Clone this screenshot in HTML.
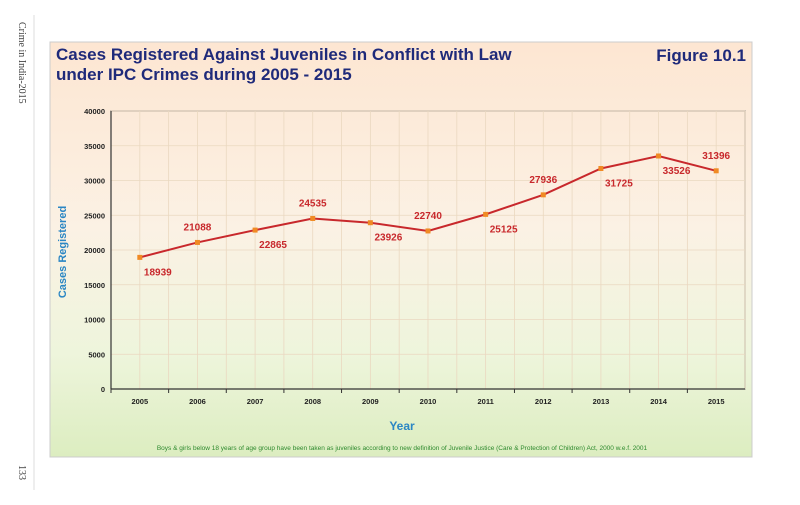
<!DOCTYPE html>
<html><head><meta charset="utf-8"><style>
body{margin:0;width:800px;height:500px;background:#fff;overflow:hidden;font-family:"Liberation Sans",sans-serif}
</style></head><body>
<svg width="800" height="500">
<defs><linearGradient id="bg" x1="0" y1="0" x2="0" y2="1">
<stop offset="0" stop-color="#fde6d2"/><stop offset="0.45" stop-color="#fbf1e4"/><stop offset="0.75" stop-color="#eef5dc"/><stop offset="1" stop-color="#dcedc0"/></linearGradient></defs>
<text transform="translate(19,22) rotate(90)" font-family="Liberation Serif" font-size="10" fill="#444">Crime in India-2015</text>
<text transform="translate(19,465) rotate(90)" font-family="Liberation Serif" font-size="10" fill="#444">133</text>
<line x1="34" y1="15" x2="34" y2="490" stroke="#ddd" stroke-width="1"/>
<rect x="50" y="42" width="702" height="415" fill="url(#bg)" stroke="#ccc"/>
<text x="56" y="60" font-size="17" font-weight="bold" fill="#1f2a7a">Cases Registered Against Juveniles in Conflict with Law</text>
<text x="56" y="80" font-size="17" font-weight="bold" fill="#1f2a7a">under IPC Crimes during 2005 - 2015</text>
<text x="746" y="61" text-anchor="end" font-size="17" font-weight="bold" fill="#1f2a7a">Figure 10.1</text>
<g id="plot"></g>
<text x="402" y="430" text-anchor="middle" font-size="12" font-weight="bold" fill="#2a86c4">Year</text>
<text transform="translate(66,252) rotate(-90)" text-anchor="middle" font-size="11" font-weight="bold" fill="#2a86c4">Cases Registered</text>
<text x="402" y="450" text-anchor="middle" font-size="6.5" fill="#2e8a2e">Boys &amp; girls below 18 years of age group have been taken as juveniles according to new definition of Juvenile Justice (Care &amp; Protection of Children) Act, 2000 w.e.f. 2001</text>
</svg>
<script>
const years=["2005","2006","2007","2008","2009","2010","2011","2012","2013","2014","2015"];
const cases=[18939,21088,22865,24535,23926,22740,25125,27936,31725,33526,31396];
const labelAbove=[false,true,false,true,false,true,false,true,false,false,true];
const yTicks=[0,5000,10000,15000,20000,25000,30000,35000,40000];
const NS="http://www.w3.org/2000/svg";
const g=document.getElementById('plot');
const L=111,R=745,T=111,B=389,yMax=40000;
const bw=(R-L)/years.length;
const x=i=>L+bw*(i+0.5);
const y=v=>B-(v/yMax)*(B-T);
function mk(t,a){const e=document.createElementNS(NS,t);for(const k in a)e.setAttribute(k,a[k]);g.appendChild(e);return e;}
const bgp=mk('rect',{x:L,y:T,width:R-L,height:B-T,fill:'none',stroke:'#555','stroke-width':1});


yTicks.forEach(v=>{
 const gl=mk('line',{x1:L,x2:R,y1:y(v),y2:y(v),stroke:'#ead8c0','stroke-width':0.8});
 
 
 const t=mk('text',{x:L-6,y:y(v)+3,'text-anchor':'end','font-size':7.5,'font-weight':'bold',fill:'#222'});
 t.textContent=v;
 
 
});
for(let i=0;i<=years.length*2;i++){
 const xx=L+bw*i/2;
 const gl=mk('line',{x1:xx,x2:xx,y1:T,y2:B,stroke:'#ead8c0','stroke-width':0.8});
 
 
}
mk('line',{x1:L,x2:L,y1:T,y2:B,stroke:'#333','stroke-width':1.2});
mk('line',{x1:L,x2:R,y1:B,y2:B,stroke:'#333','stroke-width':1.2});
years.forEach((yr,i)=>{
 mk('line',{x1:L+bw*i,x2:L+bw*i,y1:B,y2:B+4,stroke:'#333'});
 const t=mk('text',{x:x(i),y:B+15,'text-anchor':'middle','font-size':7.5,'font-weight':'bold',fill:'#222'});
 t.textContent=yr;
 
 
});
const pl=mk('polyline',{points:cases.map((v,i)=>x(i)+','+y(v)).join(' '),fill:'none',stroke:'#c8282c','stroke-width':2});


cases.forEach((v,i)=>{
 const m=mk('rect',{x:x(i)-2.5,y:y(v)-2.5,width:5,height:5,fill:'#f08a24'});
 
 
 const t=mk('text',{x:x(i)+(labelAbove[i]?0:18),y:labelAbove[i]?y(v)-12:y(v)+18,'text-anchor':'middle','font-size':10,'font-weight':'bold',fill:'#c8282c'});
 t.textContent=v;
 
 
});
</script>
</body></html>
